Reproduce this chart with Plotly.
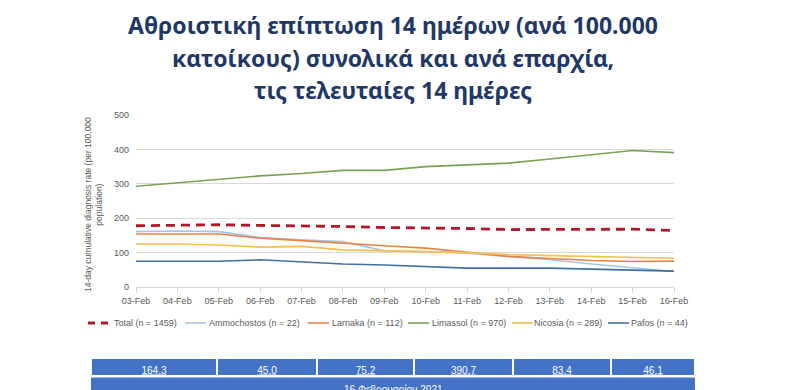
import plotly.graph_objects as go

dates = ["03-Feb", "04-Feb", "05-Feb", "06-Feb", "07-Feb", "08-Feb", "09-Feb",
         "10-Feb", "11-Feb", "12-Feb", "13-Feb", "14-Feb", "15-Feb", "16-Feb"]

total = [178, 179, 181, 179, 178, 176, 173, 172, 170, 167, 167, 167, 168, 164.3]
ammochostos = [161, 163, 161, 144, 137, 132, 105, 103, 98, 89, 79, 67, 55, 45.0]
larnaka = [154, 154, 154, 142, 134, 128, 120, 113, 100, 89, 83, 77, 74, 75.2]
limassol = [293, 303, 314, 323, 330, 339, 339, 350, 355, 360, 372, 384, 397, 390.7]
nicosia = [125, 125, 122, 116, 118, 108, 105, 103, 100, 94, 91, 89, 86, 83.4]
pafos = [75, 75, 75, 79, 72, 67, 64, 60, 55, 55, 55, 52, 50, 46.1]

series_names = ["Total (n = 1459)", "Ammochostos (n = 22)", "Larnaka (n = 112)",
                "Limassol (n = 970)", "Nicosia (n = 289)", "Pafos (n = 44)"]
table_values = ["164.3", "45.0", "75.2", "390.7", "83.4", "46.1"]
table_date = "16 Φεβρουαρίου 2021"

title_lines = ["Αθροιστική επίπτωση 14 ημέρων (ανά 100.000",
               "κατοίκους) συνολικά και ανά επαρχία,",
               "τις τελευταίες 14 ημέρες"]
ytitle = "14-day cumulative diagnosis rate (per 100,000<br>population)"

W, H = 786, 390
gray = "#595959"
grid = "#D9D9D9"
font_fam = "Liberation Sans, Arial, sans-serif"

def px(x):
    return x / W

def py(y):
    return (H - y) / H

fig = go.Figure()
styles = [
    dict(color="#B0182A", width=2.8, dash="9px,6px"),
    dict(color="#A9C4E2", width=1.6),
    dict(color="#E6834A", width=1.6),
    dict(color="#77A454", width=1.6),
    dict(color="#F9BE4E", width=1.6),
    dict(color="#40709F", width=1.6),
]
series = [total, ammochostos, larnaka, limassol, nicosia, pafos]
for name, vals, st in zip(series_names, series, styles):
    fig.add_trace(go.Scatter(x=dates, y=vals, mode="lines", name=name, line=st,
                             showlegend=False, hoverinfo="skip"))

# Manual legend (symbol start, text start in pixels)
leg_sym = [88, 185, 308, 408, 512, 608]
leg_txt = [112, 207, 330, 430, 532, 629]
leg_y = 323
for name, st, sx, tx in zip(series_names, styles, leg_sym, leg_txt):
    dash = "7px,6px" if st.get("dash") else "solid"
    fig.add_shape(type="line", xref="paper", yref="paper",
                  x0=px(sx), x1=px(sx + 21), y0=py(leg_y), y1=py(leg_y),
                  line=dict(color=st["color"], width=st["width"], dash=dash))
    fig.add_annotation(text=name, xref="paper", yref="paper", x=px(tx), y=py(leg_y),
                       xanchor="left", yanchor="middle", showarrow=False,
                       font=dict(size=9, color=gray, family=font_fam))

# Table row 1
col_w = [126, 100, 97, 99, 98, 84]
fig.add_trace(go.Table(
    domain=dict(x=[px(91), px(695)], y=[py(376), py(358)]),
    columnwidth=col_w,
    header=dict(values=table_values,
                fill_color="#4472C4", line=dict(color="white", width=1.5),
                font=dict(color="white", size=10, family=font_fam,
                          lineposition="under"),
                align="center", height=18),
))
# Table row 2 (merged cell)
fig.add_shape(type="rect", xref="paper", yref="paper", x0=px(91), x1=px(695),
              y0=py(392), y1=py(377.5), fillcolor="#4472C4", line=dict(width=0),
              layer="above")
fig.add_annotation(text=table_date, xref="paper", yref="paper",
                   x=px(393), y=py(382), xanchor="center", yanchor="top",
                   showarrow=False,
                   font=dict(color="white", size=10, family=font_fam))

# Title lines
for i, line in enumerate(title_lines):
    fig.add_annotation(text="<b>%s</b>" % line, xref="paper", yref="paper",
                       x=px(393), y=py(25 + 32.5 * i), xanchor="center",
                       yanchor="middle", showarrow=False,
                       font=dict(size=23, color="#1F3864", family="Noto Sans"))

fig.add_annotation(text=ytitle, xref="paper", yref="paper", x=px(93),
                   y=py(205), xanchor="center", yanchor="middle", textangle=-90,
                   showarrow=False,
                   font=dict(size=8.5, color=gray, family=font_fam))

fig.update_layout(
    width=W, height=H,
    margin=dict(l=0, r=0, t=0, b=0),
    paper_bgcolor="white", plot_bgcolor="white",
    showlegend=False,
    xaxis=dict(domain=[px(136), px(674)], type="category", range=[0, 13],
               showgrid=False, showline=True, linecolor=grid, linewidth=1,
               ticks="outside", ticklen=5, tickcolor=grid, automargin=False,
               tickfont=dict(size=9, color=gray, family=font_fam)),
    yaxis=dict(domain=[py(287), py(115)], range=[0, 500], dtick=100,
               showgrid=True, gridcolor=grid, zeroline=False, showline=False,
               ticks="", ticklabelstandoff=6, automargin=False,
               tickfont=dict(size=9, color=gray, family=font_fam)),
)

fig.write_html("out.html", config={"displayModeBar": False},
               post_script="document.body.style.margin='0px';"
                           "document.body.style.overflow='hidden';")
